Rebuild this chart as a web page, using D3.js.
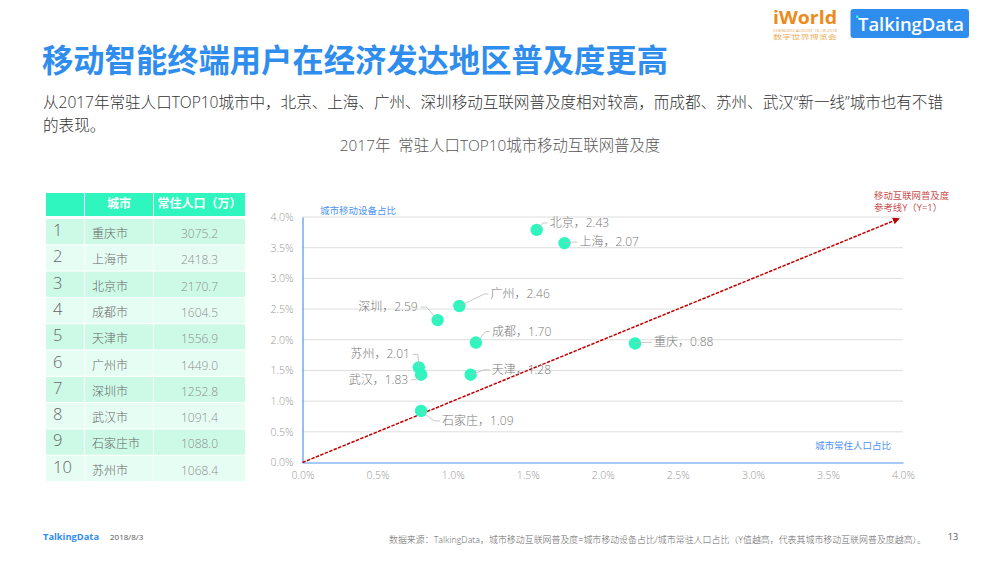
<!DOCTYPE html>
<html>
<head>
<meta charset="utf-8">
<script src="https://cdn.jsdelivr.net/npm/d3@7"></script>
<style>
  html, body { margin: 0; padding: 0; background: #fff; }
  text { font-family: "Open Sans", "Noto Sans CJK SC", sans-serif; }
</style>
</head>
<body>
<div id="chart"></div>
<script>
// Datos de la tabla
const ranks = [1, 2, 3, 4, 5, 6, 7, 8, 9, 10];
const tableCities = ["重庆市", "上海市", "北京市", "成都市", "天津市", "广州市", "深圳市", "武汉市", "石家庄市", "苏州市"];
const population = ["3075.2", "2418.3", "2170.7", "1604.5", "1556.9", "1449.0", "1252.8", "1091.4", "1088.0", "1068.4"];
const tableHeader = ["", "城市", "常住人口（万）"];

// Datos del gráfico de dispersión
const cities = ["北京", "上海", "广州", "深圳", "成都", "苏州", "武汉", "天津", "石家庄", "重庆"];
const popShare = [1.56, 1.745, 1.045, 0.90, 1.155, 0.775, 0.79, 1.12, 0.79, 2.215];
const deviceShare = [3.79, 3.575, 2.55, 2.32, 1.955, 1.55, 1.43, 1.43, 0.84, 1.94];
const penetration = ["2.43", "2.07", "2.46", "2.59", "1.70", "2.01", "1.83", "1.28", "1.09", "0.88"];
const tickValues = [0, 0.5, 1, 1.5, 2, 2.5, 3, 3.5, 4];
const refLine = [0, 3.97];

// Colocación de las etiquetas respecto a cada punto: codo, fin de línea, ancla
const labelLayout = [
  { elbow: [6, -7], end: [11, -7], anchor: "start" },
  { elbow: [8, -1], end: [13, -1], anchor: "start" },
  { elbow: [25, -12], end: [29, -12], anchor: "start" },
  { elbow: [-11, -13], end: [-17, -13], anchor: "end" },
  { elbow: [10, -11], end: [14, -11], anchor: "start" },
  { elbow: [-1, -13], end: [-6, -13], anchor: "end" },
  { elbow: [-5, 5], end: [-10, 5], anchor: "end" },
  { elbow: [14, -5], end: [19, -5], anchor: "start" },
  { elbow: [13, 10], end: [19, 10], anchor: "start" },
  { elbow: [8, -1], end: [17, -1], anchor: "start" }
];

const width = 1000;
const height = 563;
const blue = "#2f8ded";
const axisBlue = "#4f94f5";
const red = "#c00000";
const mint = "#2ff5bf";
const lightWeight = 300;

const svg = d3.select("#chart").append("svg")
  .attr("width", width)
  .attr("height", height)
  .attr("viewBox", [0, 0, width, height])
  .style("display", "block");

// Título y subtítulo
svg.append("text").attr("x", 42).attr("y", 72)
  .attr("font-size", 31.3).attr("font-weight", 700).attr("fill", blue)
  .text("移动智能终端用户在经济发达地区普及度更高");

svg.append("text").attr("x", 43).attr("y", 108)
  .attr("font-size", 15.6).attr("fill", "#333").attr("font-weight", lightWeight)
  .attr("textLength", 900).attr("lengthAdjust", "spacing")
  .text("从2017年常驻人口TOP10城市中，北京、上海、广州、深圳移动互联网普及度相对较高，而成都、苏州、武汉“新一线”城市也有不错");
svg.append("text").attr("x", 43).attr("y", 131)
  .attr("font-size", 15.6).attr("fill", "#333").attr("font-weight", lightWeight)
  .text("的表现。");

svg.append("text").attr("x", 500).attr("y", 151)
  .attr("text-anchor", "middle").attr("font-size", 15.4).attr("fill", "#555").attr("font-weight", lightWeight)
  .attr("xml:space", "preserve")
  .text("2017年  常驻人口TOP10城市移动互联网普及度");

// Logotipos
svg.append("text").attr("x", 773).attr("y", 24)
  .attr("font-size", 17).attr("font-weight", 700).attr("fill", "#ec8a1c")
  .attr("textLength", 64).attr("lengthAdjust", "spacingAndGlyphs")
  .text("iWorld");
svg.append("text").attr("x", 773).attr("y", 32)
  .attr("font-size", 3.6).attr("fill", "#e8a34c")
  .attr("textLength", 64).attr("lengthAdjust", "spacingAndGlyphs")
  .text("CHENGDU AUGUST 16-18 2018");
svg.append("text").attr("x", 773).attr("y", 38.5)
  .attr("font-size", 6).attr("fill", "#edb060")
  .attr("textLength", 64).attr("lengthAdjust", "spacingAndGlyphs")
  .text("数字世界博览会");

svg.append("rect").attr("x", 850.5).attr("y", 9)
  .attr("width", 118.5).attr("height", 29).attr("rx", 3)
  .attr("fill", "#2f8ded");
svg.append("rect").attr("x", 856).attr("y", 15.5)
  .attr("width", 2.5).attr("height", 2.5)
  .attr("fill", mint);
svg.append("text").attr("x", 858).attr("y", 30.5)
  .attr("font-size", 18).attr("font-weight", 600).attr("fill", "#fff")
  .attr("textLength", 106).attr("lengthAdjust", "spacingAndGlyphs")
  .text("TalkingData");

// Tabla
const colX = d3.scaleOrdinal().domain([0, 1, 2]).range([46, 85, 154]);
const colW = d3.scaleOrdinal().domain([0, 1, 2]).range([38, 68, 91]);
const rowY = d3.scaleBand().domain(ranks).range([219, 481]).paddingInner(0.04);

const table = svg.append("g");

table.selectAll("rect.head")
  .data(tableHeader)
  .join("rect")
  .attr("class", "head")
  .attr("x", (d, i) => colX(i))
  .attr("y", 193)
  .attr("width", (d, i) => colW(i))
  .attr("height", 23)
  .attr("fill", mint);

table.selectAll("text.head")
  .data(tableHeader)
  .join("text")
  .attr("class", "head")
  .attr("x", (d, i) => colX(i) + colW(i) / 2)
  .attr("y", 208)
  .attr("text-anchor", "middle")
  .attr("font-size", 12)
  .attr("font-weight", 700)
  .attr("fill", "#fff")
  .text(d => d);

const rows = table.selectAll("g.row")
  .data(ranks)
  .join("g")
  .attr("class", "row")
  .attr("transform", d => `translate(0,${rowY(d)})`);

[0, 1, 2].forEach(c => {
  rows.append("rect")
    .attr("x", colX(c))
    .attr("width", colW(c))
    .attr("height", rowY.bandwidth())
    .attr("fill", (d, i) => i % 2 === 0 ? "#ccfae6" : "#e6fdf4");
});

rows.append("text")
  .attr("x", 53)
  .attr("y", 17)
  .attr("font-size", 16.5)
  .attr("font-weight", lightWeight)
  .attr("fill", "#666")
  .text(d => d);

rows.append("text")
  .attr("x", 92)
  .attr("y", 19)
  .attr("font-size", 12)
  .attr("font-weight", lightWeight)
  .attr("fill", "#666")
  .text((d, i) => tableCities[i]);

rows.append("text")
  .attr("x", 199.5)
  .attr("y", 19)
  .attr("text-anchor", "middle")
  .attr("font-size", 12)
  .attr("font-weight", lightWeight)
  .attr("fill", "#8f8f8f")
  .text((d, i) => population[i]);

// Escalas del gráfico
const x = d3.scaleLinear().domain([0, 4]).range([302.5, 903]);
const y = d3.scaleLinear().domain([0, 4]).range([462.5, 217]);

const fmt = d => d.toFixed(1) + "%";

// Rejilla
svg.append("g")
  .selectAll("line")
  .data(tickValues.slice(1))
  .join("line")
  .attr("x1", x(0))
  .attr("x2", x(4))
  .attr("y1", d => y(d))
  .attr("y2", d => y(d))
  .attr("stroke", "#dedede")
  .attr("stroke-width", 1);

// Ejes
svg.append("g")
  .attr("transform", `translate(0,${y(0)})`)
  .call(d3.axisBottom(x).tickValues(tickValues).tickFormat(fmt).tickSize(0).tickPadding(9))
  .call(g => g.select(".domain").attr("stroke", axisBlue).attr("stroke-width", 1.2))
  .call(g => g.selectAll("text").attr("fill", "#999").attr("font-size", 10.5).attr("font-weight", lightWeight).attr("font-family", null));

svg.append("g")
  .attr("transform", `translate(${x(0)},0)`)
  .call(d3.axisLeft(y).tickValues(tickValues).tickFormat(fmt).tickSize(0).tickPadding(9))
  .call(g => g.select(".domain").attr("stroke", axisBlue).attr("stroke-width", 1.2))
  .call(g => g.selectAll("text").attr("fill", "#999").attr("font-size", 10.5).attr("font-weight", lightWeight).attr("font-family", null));

svg.append("text").attr("x", 320).attr("y", 214)
  .attr("font-size", 9.5).attr("fill", axisBlue).text("城市移动设备占比");
svg.append("text").attr("x", 891).attr("y", 449)
  .attr("text-anchor", "end").attr("font-size", 9.5).attr("fill", axisBlue).text("城市常住人口占比");

// Línea de referencia Y=1
svg.append("defs").append("marker")
  .attr("id", "arrow")
  .attr("viewBox", "0 0 10 10")
  .attr("refX", 8)
  .attr("refY", 5)
  .attr("markerWidth", 7)
  .attr("markerHeight", 7)
  .attr("orient", "auto")
  .attr("markerUnits", "userSpaceOnUse")
  .append("path")
  .attr("d", "M0,0L10,5L0,10Z")
  .attr("fill", red);

svg.append("line")
  .attr("x1", x(refLine[0]))
  .attr("y1", y(refLine[0]))
  .attr("x2", x(refLine[1]))
  .attr("y2", y(refLine[1]))
  .attr("stroke", red)
  .attr("stroke-width", 1.5)
  .attr("stroke-dasharray", "3.5 1.3")
  .attr("marker-end", "url(#arrow)");

svg.append("text").attr("x", 874).attr("y", 198.5)
  .attr("font-size", 9.4).attr("fill", "#c9504f").text("移动互联网普及度");
svg.append("text").attr("x", 874).attr("y", 210.5)
  .attr("font-size", 9.4).attr("fill", "#c9504f").text("参考线Y（Y=1）");

// Puntos y etiquetas
const points = svg.append("g")
  .selectAll("g")
  .data(cities)
  .join("g")
  .attr("transform", (d, i) => `translate(${x(popShare[i])},${y(deviceShare[i])})`);

points.append("circle")
  .attr("r", 6.2)
  .attr("fill", mint);

points.append("polyline")
  .attr("points", (d, i) => {
    const l = labelLayout[i];
    return [[0, 0], l.elbow, l.end].join(" ");
  })
  .attr("fill", "none")
  .attr("stroke", "#bbb")
  .attr("stroke-width", 0.8);

points.append("text")
  .attr("x", (d, i) => labelLayout[i].end[0] + (labelLayout[i].anchor === "start" ? 2 : -3))
  .attr("y", (d, i) => labelLayout[i].end[1] + 4)
  .attr("text-anchor", (d, i) => labelLayout[i].anchor)
  .attr("font-size", 12)
  .attr("font-weight", lightWeight)
  .attr("fill", "#777")
  .text((d, i) => `${d}，${penetration[i]}`);

// Pie de página
svg.append("text").attr("x", 43).attr("y", 540)
  .attr("font-size", 9.5).attr("font-weight", 700).attr("fill", blue)
  .attr("textLength", 56).attr("lengthAdjust", "spacingAndGlyphs")
  .text("TalkingData");
svg.append("text").attr("x", 110).attr("y", 540)
  .attr("font-size", 8).attr("fill", "#555").text("2018/8/3");
svg.append("text").attr("x", 389).attr("y", 543)
  .attr("font-size", 8.6).attr("fill", "#666").attr("font-weight", lightWeight)
  .attr("textLength", 537).attr("lengthAdjust", "spacingAndGlyphs")
  .text("数据来源：TalkingData，城市移动互联网普及度=城市移动设备占比/城市常驻人口占比（Y值越高，代表其城市移动互联网普及度越高）。");
svg.append("text").attr("x", 953).attr("y", 540)
  .attr("text-anchor", "middle").attr("font-size", 9).attr("fill", "#555").text("13");
</script>
</body>
</html>
